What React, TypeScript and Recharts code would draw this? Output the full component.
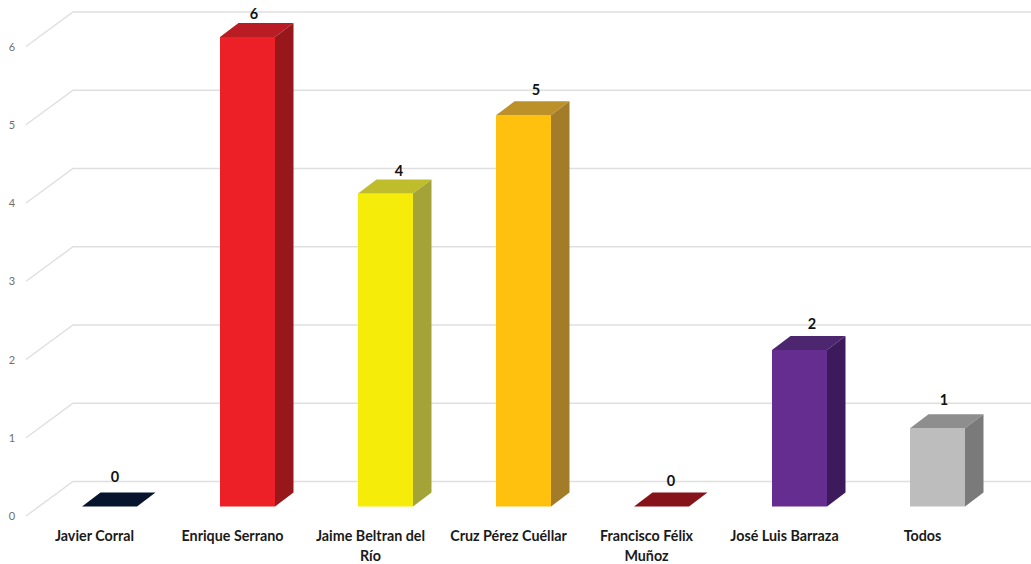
import React from 'react';
import { BarChart, Bar, XAxis, YAxis, CartesianGrid, Cell, LabelList } from 'recharts';

const names = ['Javier Corral', 'Enrique Serrano', 'Jaime Beltran del Río', 'Cruz Pérez Cuéllar', 'Francisco Félix Muñoz', 'José Luis Barraza', 'Todos'];
const votes = [0, 6, 4, 5, 0, 2, 1];
const fronts = ['#06142e', '#ed1f27', '#f5ec09', '#ffc00e', '#86121a', '#662d91', '#bdbdbd'];
const tops = ['#06142e', '#b91c22', '#c0bd2c', '#bd912a', '#86121a', '#4d2670', '#8e8e8e'];
const sides = ['#06142e', '#97171b', '#a3a338', '#a37c2a', '#86121a', '#3d1a5c', '#7a7a7a'];
const tickValues = [0, 1, 2, 3, 4, 5, 6];
const labelLines: Record<string, string[]> = {
  'Jaime Beltran del Río': ['Jaime Beltran del', 'Río'],
  'Francisco Félix Muñoz': ['Francisco Félix', 'Muñoz'],
};
const labelNudgeX = [5.5, 6.5, 13.5, 12.5, 9.5, 12.5, 6.5];
const labelNudgeY = [24.5, 18, 17.5, 20.5, 20.5, 21, 23];

const data = names.map((name, i) => ({ name, votes: votes[i], front: fronts[i], top: tops[i], side: sides[i] }));

const DX = 18.5;
const DY = 14;
const FONT = 'Lato, sans-serif';

function Box3D(props: any) {
  const { x, y, width, height, payload } = props;
  const r = x + width;
  const b = y + height;
  if (height <= 0.5) {
    return <polygon points={`${x},${b} ${r},${b} ${r + DX},${b - DY} ${x + DX},${b - DY}`} fill={payload.front} />;
  }
  return (
    <g>
      <rect x={x} y={y} width={width} height={height} fill={payload.front} />
      <polygon points={`${x},${y} ${r},${y} ${r + DX},${y - DY} ${x + DX},${y - DY}`} fill={payload.top} />
      <polygon points={`${r},${y} ${r + DX},${y - DY} ${r + DX},${b - DY} ${r},${b}`} fill={payload.side} />
    </g>
  );
}

function GridLine(props: any) {
  const y = props.y1;
  return (
    <polyline
      key={props.key}
      points={`26,${y + 9.5} 73,${y - 25} 1031,${y - 25}`}
      fill="none"
      stroke="#dfdfdf"
      strokeWidth={1.4}
    />
  );
}

function CatTick(props: any) {
  const { x, y, payload } = props;
  const lines = labelLines[payload.value] ?? [payload.value];
  return (
    <g>
      {lines.map((t: string, i: number) => (
        <text key={t} x={x - 14.5} y={y + 26.5 + i * 20} textAnchor="middle" fontFamily={FONT} fontWeight={700} fontSize={14.3} fill="#1a1a1a">
          {t}
        </text>
      ))}
    </g>
  );
}

function ValTick(props: any) {
  const { y, payload } = props;
  return (
    <text x={12} y={y + 13.5} textAnchor="middle" fontFamily={FONT} fontSize={11} fill="#6f6f6f">
      {payload.value}
    </text>
  );
}

function TopLabel(props: any) {
  const { x, y, width, value, index } = props;
  return (
    <text x={x + width / 2 + labelNudgeX[index]} y={y - labelNudgeY[index]} textAnchor="middle" fontFamily={FONT} fontWeight={700} fontSize={14.5} fill="#111">
      {value}
    </text>
  );
}

export default function App() {
  return (
    <div style={{ position: 'absolute', left: 0, top: 0, width: 1031, height: 564, background: '#fff' }}>
      <BarChart width={1031} height={564} data={data} margin={{ top: 37, right: 25, bottom: 0, left: 0 }}>
        <CartesianGrid vertical={false} horizontal={GridLine as any} />
        <XAxis dataKey="name" axisLine={false} tickLine={false} tick={CatTick as any} interval={0} height={57.5} />
        <YAxis domain={[0, 6]} ticks={tickValues} axisLine={false} tickLine={false} tick={ValTick as any} width={40} />
        <Bar dataKey="votes" barSize={55} shape={Box3D as any} isAnimationActive={false}>
          {data.map((d) => <Cell key={d.name} fill={d.front} />)}
          <LabelList dataKey="votes" content={TopLabel as any} />
        </Bar>
      </BarChart>
    </div>
  );
}
